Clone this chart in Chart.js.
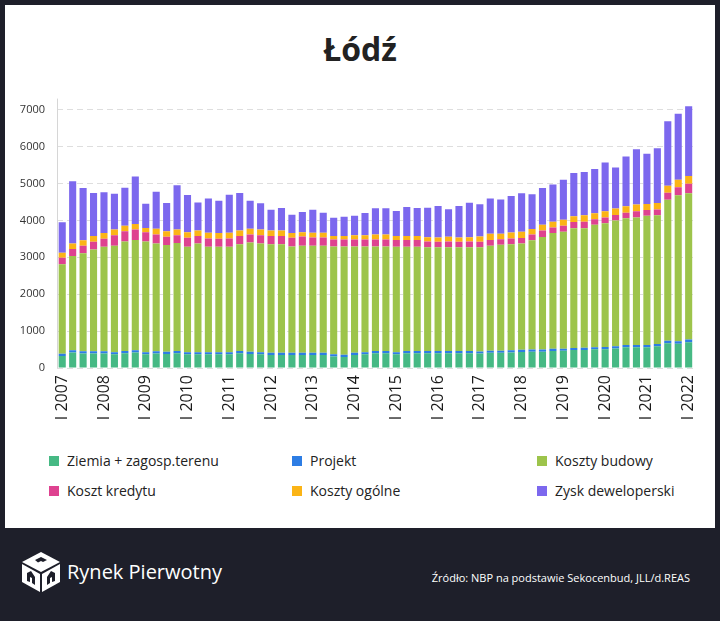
<!DOCTYPE html>
<html lang="pl">
<head>
<meta charset="utf-8">
<title>Łódź</title>
<script src="https://cdn.jsdelivr.net/npm/chart.js@4.4.1/dist/chart.umd.min.js"></script>
<style>
  html, body { margin: 0; padding: 0; }
  body {
    width: 720px; height: 621px; overflow: hidden;
    background: #1e1f2a; position: relative;
    font-family: "Open Sans", "DejaVu Sans", sans-serif;
  }
  #card {
    position: absolute; left: 5px; top: 5px; width: 710px; height: 523px;
    background: #fff;
  }
  #title {
    position: absolute; left: 0; top: 22px; width: 710px; text-align: center;
    font-size: 32px; font-weight: 700; color: #222;
  }
  #chartBox { position: absolute; left: 0; top: 75px; width: 710px; height: 360px; }
  #legend { position: absolute; left: 0; top: 446px; width: 710px; height: 60px; }
  .item { position: absolute; display: flex; align-items: center; font-size: 14px; color: #222; }
  .item span.box { width: 10px; height: 10px; margin-right: 8px; display: inline-block; }
  #brand {
    position: absolute; left: 67px; top: 558px; color: #fff; font-size: 20px;
    font-family: "Open Sans", sans-serif;
  }
  #logo { position: absolute; left: 21px; top: 551px; }
  #source {
    position: absolute; right: 30px; top: 570px; color: #fff; font-size: 11px;
  }
</style>
</head>
<body>
<div id="card">
  <div id="title">Łódź</div>
  <div id="chartBox"><canvas id="costChart"></canvas></div>
  <div id="legend"></div>
</div>
<svg id="logo" width="40" height="42" viewBox="0 0 40 42">
  <polygon points="20,1 39,11 20,21 1,11" fill="#fff"/>
  <polygon points="1,13 19,23 19,41 1,31" fill="#fff"/>
  <polygon points="21,23 39,13 39,31 21,41" fill="#fff"/>
  <path d="M14,9 L20,6 L26,9 L22,11 L20,10 L17,11.5 Z" fill="#1e1f2a"/>
  <path d="M6,30 L6,22 L10,20 L14,26 L14,34 L11,32 L11,27 L9,26 L9,31 Z" fill="#1e1f2a"/>
  <path d="M26,34 L26,26 L30,20 L34,22 L34,30 L31,31 L31,26 L29,27 L29,32 Z" fill="#1e1f2a"/>
</svg>
<div id="brand">Rynek Pierwotny</div>
<div id="source">Źródło: NBP na podstawie Sekocenbud, JLL/d.REAS</div>

<script>
const years = [2007, 2008, 2009, 2010, 2011, 2012, 2013, 2014, 2015, 2016, 2017, 2018, 2019, 2020, 2021, 2022];
const quarters = ["I", "II", "III", "IV"];
const yTicks = [0, 1000, 2000, 3000, 4000, 5000, 6000, 7000];

// PLN / m2, kwartalnie od I 2007 do I 2022
const ziemia = [325, 420, 395, 395, 395, 370, 400, 420, 370, 395, 380, 400, 370, 370, 370, 370,
  370, 400, 380, 370, 350, 350, 350, 350, 350, 350, 315, 300, 350, 370, 400, 400,
  370, 400, 400, 400, 400, 400, 400, 400, 390, 410, 410, 420, 435, 440, 440, 460,
  465, 485, 490, 505, 510, 530, 560, 565, 565, 590, 670, 655, 700];
const projekt = [60, 60, 60, 60, 60, 60, 60, 60, 60, 60, 60, 60, 60, 60, 60, 60,
  60, 60, 60, 60, 60, 60, 60, 60, 60, 60, 60, 60, 60, 60, 60, 60,
  60, 60, 60, 60, 60, 60, 60, 60, 60, 60, 60, 60, 60, 60, 60, 60,
  60, 60, 60, 60, 60, 60, 60, 60, 60, 60, 70, 70, 70];
const budowa = [2425, 2555, 2655, 2755, 2830, 2885, 2965, 2990, 2995, 2920, 2890, 2925, 2855, 2945, 2855, 2855,
  2855, 2895, 2960, 2945, 2945, 2945, 2885, 2905, 2905, 2905, 2920, 2935, 2885, 2865, 2835, 2835,
  2855, 2825, 2825, 2810, 2810, 2810, 2810, 2810, 2820, 2845, 2870, 2875, 2880, 2960, 3050, 3140,
  3165, 3245, 3240, 3315, 3355, 3405, 3435, 3455, 3500, 3490, 3820, 3955, 3965];
const kredyt = [180, 190, 200, 210, 220, 280, 280, 280, 255, 245, 225, 210, 245, 200, 225, 220,
  225, 220, 220, 225, 220, 220, 235, 245, 220, 220, 190, 190, 190, 190, 190, 190,
  185, 185, 185, 155, 150, 155, 150, 155, 150, 155, 150, 155, 150, 155, 175, 150,
  165, 165, 175, 150, 155, 150, 150, 165, 155, 155, 190, 220, 260];
const ogolne = [130, 150, 155, 155, 155, 155, 150, 150, 115, 150, 150, 155, 150, 150, 155, 150,
  155, 150, 155, 150, 150, 150, 130, 120, 130, 130, 90, 90, 115, 115, 130, 130,
  105, 105, 105, 120, 115, 130, 115, 120, 140, 165, 150, 165, 165, 150, 155, 155,
  165, 155, 175, 165, 165, 175, 175, 185, 165, 175, 190, 200, 210];
const zysk = [830, 1685, 1410, 1170, 1105, 970, 1030, 1290, 655, 1005, 765, 1205, 1005, 760, 925, 880,
  1030, 1020, 760, 715, 560, 610, 495, 550, 620, 540, 495, 525, 525, 600, 715, 715,
  680, 785, 760, 800, 855, 750, 855, 935, 880, 960, 925, 985, 1045, 940, 995, 1010,
  1080, 1175, 1170, 1195, 1325, 1110, 1350, 1500, 1360, 1485, 1745, 1790, 1885];

const labels = [];
years.forEach(y => quarters.forEach(q => labels.push(q + " " + y)));
labels.length = ziemia.length;

const series = [
  { label: "Ziemia + zagosp.terenu", data: ziemia, color: "#46b984" },
  { label: "Projekt", data: projekt, color: "#2d7de4" },
  { label: "Koszty budowy", data: budowa, color: "#9dc44b" },
  { label: "Koszt kredytu", data: kredyt, color: "#de4290" },
  { label: "Koszty ogólne", data: ogolne, color: "#fbb416" },
  { label: "Zysk deweloperski", data: zysk, color: "#7c68ee" }
];

// legenda w trzech kolumnach
const legendEl = document.getElementById("legend");
const legendX = [44, 287, 532];
legendEl.innerHTML = series.map((s, i) => `
  <div class="item" style="left:${legendX[i % 3]}px; top:${Math.floor(i / 3) * 30}px;">
    <span class="box" style="background:${s.color}"></span>${s.label}
  </div>`).join("");

// pionowa linia osi Y (ciągła, bo siatka jest przerywana)
const axisLine = {
  id: "axisLine",
  afterDraw(chart) {
    const { ctx, chartArea } = chart;
    ctx.save();
    ctx.strokeStyle = "#d6d6d6";
    ctx.lineWidth = 1;
    ctx.beginPath();
    ctx.moveTo(chartArea.left + 0.5, chartArea.top);
    ctx.lineTo(chartArea.left + 0.5, chartArea.bottom);
    ctx.stroke();
    ctx.restore();
  }
};

const ctx = document.getElementById("costChart").getContext("2d");
new Chart(ctx, {
  type: "bar",
  data: {
    labels: labels,
    datasets: series.map(s => ({
      label: s.label,
      data: s.data,
      backgroundColor: s.color,
      borderWidth: 0,
      barPercentage: 0.68,
      categoryPercentage: 1
    }))
  },
  options: {
    responsive: true,
    maintainAspectRatio: false,
    animation: false,
    layout: { padding: { top: 0, right: 17, left: 0, bottom: 0 } },
    plugins: { legend: { display: false }, tooltip: { enabled: false } },
    scales: {
      x: {
        stacked: true,
        afterFit: scale => { scale.height = 72; },
        grid: { display: false, drawTicks: false },
        border: { display: false },
        ticks: {
          autoSkip: false,
          maxRotation: 90,
          minRotation: 90,
          padding: 7,
          color: "#1a1a1a",
          font: { family: "Open Sans", size: 16, weight: "500" },
          callback: (v, i) => (i % 4 === 0 ? labels[i] : "")
        }
      },
      y: {
        stacked: true,
        min: 0,
        max: 7300,
        afterFit: scale => { scale.width = 52; },
        afterBuildTicks: scale => { scale.ticks = yTicks.map(v => ({ value: v })); },
        border: { display: false, dash: [6, 4] },
        grid: { drawTicks: false, color: "#dedede" },
        ticks: {
          autoSkip: false,
          padding: 12,
          color: "#333",
          font: { family: "Open Sans", size: 11 },
          callback: v => String(v)
        }
      }
    }
  },
  plugins: [axisLine]
});
</script>
</body>
</html>
